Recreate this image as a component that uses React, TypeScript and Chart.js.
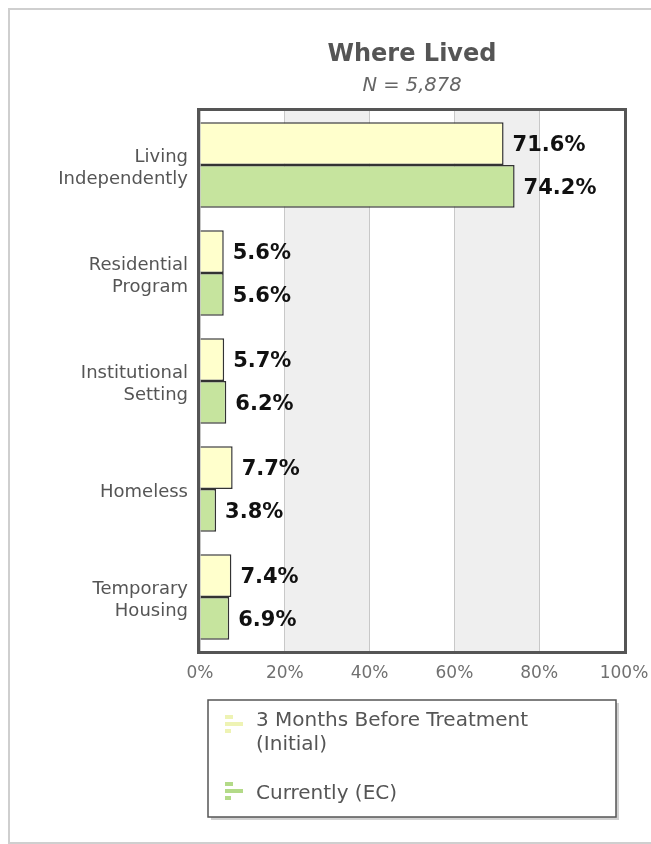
import React, { useEffect, useRef } from "react";
import { Chart, registerables } from "chart.js";

Chart.register(...registerables);

const categories: string[][] = [
  ["Living", "Independently"],
  ["Residential", "Program"],
  ["Institutional", "Setting"],
  ["Homeless"],
  ["Temporary", "Housing"],
];
const initialValues = [71.6, 5.6, 5.7, 7.7, 7.4];
const currentValues = [74.2, 5.6, 6.2, 3.8, 6.9];
const seriesLabels = ["3 Months Before Treatment (Initial)", "Currently (EC)"];
const legendLines = [["3 Months Before Treatment", "(Initial)"], ["Currently (EC)"]];
const titleText = "Where Lived";
const subtitleText = "N = 5,878";
const xTickValues = [0, 20, 40, 60, 80, 100];

const YELLOW = "rgb(255,255,204)";
const GREEN = "rgb(198,228,158)";
const FONT = "'DejaVu Sans', Verdana, sans-serif";

const decorPlugin = {
  id: "decor",
  beforeDraw(chart: any) {
    const { ctx, chartArea } = chart;
    const x = chart.scales.x;
    ctx.save();
    ctx.fillStyle = "#ffffff";
    ctx.fillRect(0, 0, chart.width, chart.height);
    // outer frame
    ctx.fillStyle = "#cfcfcf";
    ctx.fillRect(0, 0, 2, chart.height);
    ctx.fillRect(0, 0, chart.width, 2);
    ctx.fillRect(0, chart.height - 2, chart.width, 2);
    // alternating bands
    ctx.fillStyle = "#efefef";
    for (let i = 1; i < xTickValues.length - 1; i += 2) {
      const a = x.getPixelForValue(xTickValues[i]);
      const b = x.getPixelForValue(xTickValues[i + 1]);
      ctx.fillRect(a, chartArea.top, b - a, chartArea.bottom - chartArea.top);
    }
    ctx.restore();
  },
  afterDraw(chart: any) {
    const { ctx, chartArea } = chart;
    const yScale = chart.scales.y;
    ctx.save();
    // plot border
    ctx.strokeStyle = "#555555";
    ctx.lineWidth = 3;
    ctx.strokeRect(
      chartArea.left - 1.5,
      chartArea.top - 1.5,
      chartArea.right - chartArea.left + 3,
      chartArea.bottom - chartArea.top + 3
    );
    // category labels
    ctx.fillStyle = "#555555";
    ctx.font = `18px ${FONT}`;
    ctx.textAlign = "right";
    ctx.textBaseline = "middle";
    categories.forEach((lines, i) => {
      const cy = yScale.getPixelForTick(i) + 3;
      const lh = 22;
      const start = cy - ((lines.length - 1) * lh) / 2;
      lines.forEach((line, k) => {
        ctx.fillText(line, chartArea.left - 12, start + k * lh);
      });
    });
    // data labels
    ctx.fillStyle = "#111111";
    ctx.font = `bold 21px ${FONT}`;
    ctx.textAlign = "left";
    chart.data.datasets.forEach((ds: any, di: number) => {
      const meta = chart.getDatasetMeta(di);
      meta.data.forEach((bar: any, i: number) => {
        ctx.fillText(ds.data[i].toFixed(1) + "%", bar.x + 9, bar.y + 2);
      });
    });
    // title
    const cx = (chartArea.left + chartArea.right) / 2;
    ctx.textAlign = "center";
    ctx.fillStyle = "#555555";
    ctx.font = `bold 24px ${FONT}`;
    ctx.fillText(titleText, cx, 47);
    ctx.fillStyle = "#666666";
    ctx.font = `oblique 19.5px ${FONT}`;
    ctx.fillText(subtitleText, cx, 78);

    // legend
    const lx = 200, ly = 692, lw = 408, lh = 117;
    ctx.fillStyle = "rgba(0,0,0,0.18)";
    ctx.fillRect(lx + 3, ly + 3, lw, lh);
    ctx.fillStyle = "#ffffff";
    ctx.fillRect(lx, ly, lw, lh);
    ctx.strokeStyle = "#555555";
    ctx.lineWidth = 1.5;
    ctx.strokeRect(lx, ly, lw, lh);

    const iconColors = ["#eef3b4", "#b3da88"];
    const iconTops = [707, 774];
    const textYs = [[713, 737], [786]];
    ctx.textAlign = "left";
    ctx.font = `20px ${FONT}`;
    for (let s = 0; s < seriesLabels.length; s++) {
      const y0 = iconTops[s];
      ctx.fillStyle = iconColors[s];
      ctx.fillRect(217, y0, 8, 4);
      ctx.fillRect(217, y0 + 7, 18, 4);
      ctx.fillRect(217, y0 + 14, 6, 4);
      ctx.fillStyle = "#555555";
      legendLines[s].forEach((line, k) => {
        ctx.fillText(line, 248, textYs[s][k]);
      });
    }
    ctx.restore();
  },
};

export default function App() {
  const ref = useRef<HTMLCanvasElement | null>(null);
  useEffect(() => {
    if (!ref.current) return;
    const chart = new Chart(ref.current, {
      type: "bar",
      data: {
        labels: categories.map((c) => c.join(" ")),
        datasets: [
          {
            label: seriesLabels[0],
            data: initialValues,
            backgroundColor: YELLOW,
            borderColor: "#333333",
            borderWidth: 1.5,
            categoryPercentage: 0.79,
            barPercentage: 1.0,
          },
          {
            label: seriesLabels[1],
            data: currentValues,
            backgroundColor: GREEN,
            borderColor: "#333333",
            borderWidth: 1.5,
            categoryPercentage: 0.79,
            barPercentage: 1.0,
          },
        ],
      },
      options: {
        indexAxis: "y",
        responsive: false,
        animation: false,
        layout: { padding: { top: 103, left: 0, right: 27, bottom: 153 } },
        plugins: {
          legend: { display: false },
          tooltip: { enabled: false },
          title: { display: false },
        },
        scales: {
          x: {
            min: 0,
            max: 100,
            ticks: {
              stepSize: 20,
              callback: (v: any) => v + "%",
              color: "#707070",
              font: { family: FONT, size: 17 },
              padding: 12,
            },
            grid: { color: "#c8c8c8", lineWidth: 1, drawTicks: false },
            border: { display: false },
            afterFit: (s: any) => {
              s.height = 40;
              s.paddingLeft = 0;
              s.paddingRight = 0;
            },
          },
          y: {
            ticks: { display: false },
            grid: { display: false, drawTicks: false },
            border: { display: false },
            afterFit: (s: any) => {
              s.width = 192;
            },
          },
        },
      } as any,
      plugins: [decorPlugin],
    });
    return () => chart.destroy();
  }, []);
  return (
    <div style={{ position: "absolute", left: 8, top: 8, width: 643, height: 836 }}>
      <canvas ref={ref} width={643} height={836} style={{ display: "block" }} />
    </div>
  );
}
